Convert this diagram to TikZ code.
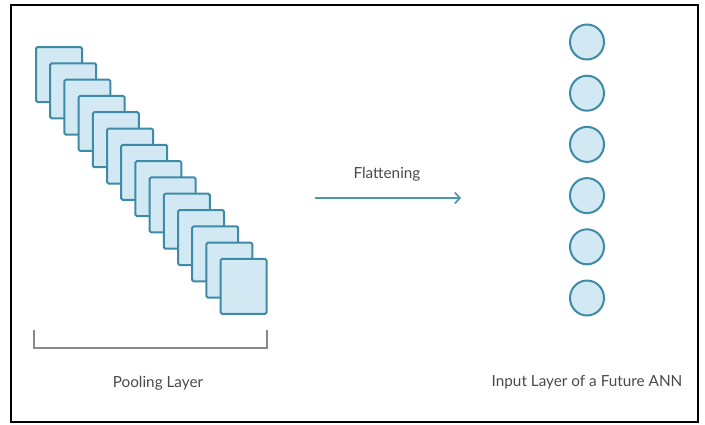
\documentclass[tikz,border=0pt]{standalone}
\usepackage{fontspec}
\setmainfont{Lato}
\usetikzlibrary{arrows.meta,shapes.geometric}
\definecolor{boxfill}{HTML}{D2E9F3}
\definecolor{boxline}{HTML}{3E8BA8}
\definecolor{arrowc}{HTML}{4A9AAE}
\definecolor{txt}{HTML}{4A4A4A}
\definecolor{brk}{HTML}{8A8A8A}
\tikzset{
  fmap/.style={draw=boxline, fill=boxfill, line width=2pt, rounded corners=1.5pt, minimum width=46pt, minimum height=55pt, inner sep=0pt},
  neuron/.style={draw=boxline, fill=boxfill, line width=2pt, ellipse, minimum width=34pt, minimum height=35pt, inner sep=0pt},
  lbl/.style={text=txt, font=\fontsize{15.3}{17}\selectfont},
}
\begin{document}
\begin{tikzpicture}[x=1pt,y=-1pt]
\useasboundingbox (0,0) rectangle (705,424);
\fill[white] (0,0) rectangle (705,424);
\draw[black, line width=1.3pt] (11,5) rectangle (698,422);
% feature maps
\foreach \i in {0,...,13}{
  \node[fmap] (m\i) at ({59+\i*14.2},{74.5+\i*16.3}) {};
}
% bracket
\coordinate (b1) at (34,330);
\coordinate (b2) at (34,348);
\coordinate (b3) at (267,348);
\coordinate (b4) at (267,330);
\draw[brk, line width=1.2pt] (b1) -- (b2) -- (b3) -- (b4);
\node[lbl] (pool) at (158,383) {Pooling Layer};
% arrow
\coordinate (a1) at (315,198);
\coordinate (a2) at (461,198);
\draw[arrowc, line width=1.7pt, -{Straight Barb[length=5pt,width=11pt]}] (a1) -- (a2);
\node[lbl] (flat) at (387,174) {Flattening};
% neurons
\foreach \j in {0,...,5}{
  \node[neuron] (n\j) at (587,{42+\j*51.2}) {};
}
\node[lbl] (inp) at (587,382) {Input Layer of a Future ANN};
\end{tikzpicture}
\end{document}
